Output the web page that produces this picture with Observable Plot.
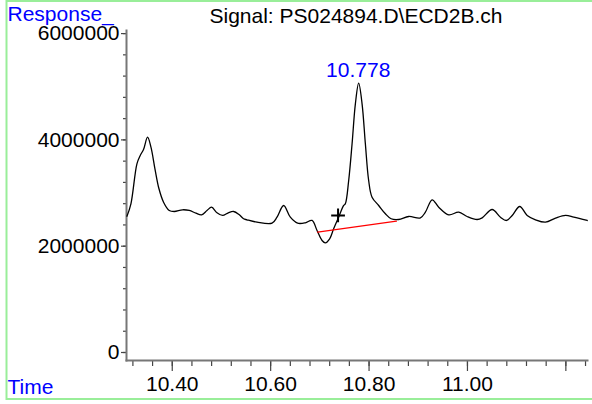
<!DOCTYPE html>
<html><head><meta charset="utf-8">
<script src="https://cdn.jsdelivr.net/npm/d3@7"></script>
<script src="https://cdn.jsdelivr.net/npm/@observablehq/plot@0.6"></script>
<style>body{margin:0;background:#fff} svg{display:block}</style>
</head><body><div id="chart"></div>
<script>
// Chromatogram trace (time in minutes, detector response)
const times = [10.3079,10.3160,10.3282,10.3349,10.3416,10.3498,10.3567,10.3648,10.3730,10.3823,10.3939,10.4041,10.4209,10.4346,10.4482,10.4596,10.4706,10.4799,10.4909,10.5023,10.5139,10.5247,10.5363,10.5450,10.5519,10.5723,10.6028,10.6129,10.6264,10.6400,10.6548,10.6705,10.6841,10.6943,10.7045,10.7112,10.7199,10.7280,10.7382,10.7484,10.7518,10.7586,10.7655,10.7722,10.7789,10.7858,10.7925,10.7992,10.8061,10.8196,10.8332,10.8448,10.8602,10.8806,10.9044,10.9145,10.9282,10.9416,10.9619,10.9823,10.9993,11.0197,11.0299,11.0502,11.0671,11.0793,11.0909,11.1063,11.1214,11.1383,11.1586,11.1790,11.1993,11.2162,11.2434];
const responses = [2564000,2798000,3550000,3707000,3819000,4051000,3863000,3456000,3080000,2828000,2672000,2653000,2685000,2672000,2621000,2591000,2672000,2734000,2628000,2578000,2628000,2653000,2591000,2516000,2497000,2452000,2433000,2546000,2766000,2546000,2433000,2440000,2484000,2295000,2107000,2064000,2139000,2327000,2546000,2766000,2798000,3236000,3927000,4679000,5067000,4679000,3927000,3236000,2922000,2766000,2610000,2516000,2502000,2559000,2534000,2640000,2873000,2734000,2591000,2640000,2559000,2502000,2534000,2690000,2546000,2484000,2578000,2747000,2578000,2497000,2452000,2527000,2578000,2546000,2484000];

// Integration baseline of the labelled peak
const baselineTimes = [10.6955, 10.8556];
const baselineResponses = [2264000, 2470000];

// Peak start marker
const markerTimes = [10.737];
const markerResponses = [2578000];

// Peak label
const peakTimes = [10.778];
const peakResponses = [5067000];
const peakLabels = ["10.778"];

// Axes
const xDomain = [10.307, 11.244];
const yDomain = [-150500, 6058000];
const xMajorTicks = [10.40, 10.60, 10.80, 11.00, 11.20];
const xMajorLabels = ["10.40", "10.60", "10.80", "11.00", ""];
const xMinorTicks = d3.range(1032, 1125, 4).map(d => d / 100);
const yMajorTicks = [0, 2000000, 4000000, 6000000];
const yMajorLabels = ["0", "2000000", "4000000", "6000000"];
const yMinorTicks = d3.range(0, 6000001, 400000);

const titleText = "Signal: PS024894.D\\ECD2B.ch";
const yTitle = "Response_";
const xTitle = "Time";

const trace = times.map((t, i) => ({t, v: responses[i]}));
const base = baselineTimes.map((t, i) => ({t, v: baselineResponses[i]}));
const marker = markerTimes.map((t, i) => ({t, v: markerResponses[i]}));
const peaks = peakTimes.map((t, i) => ({t, v: peakResponses[i], label: peakLabels[i]}));

const xLab = new Map(xMajorTicks.map((d, i) => [d, xMajorLabels[i]]));
const yLab = new Map(yMajorTicks.map((d, i) => [d, yMajorLabels[i]]));

const font = "'Liberation Sans', Arial, sans-serif";
const FS = 21;
const W = 592, H = 404;

const chart = Plot.plot({
  width: W, height: H,
  marginLeft: 126, marginRight: 5, marginTop: 30, marginBottom: 44,
  style: {fontFamily: font, fontSize: FS + "px", background: "#fff", color: "#000", overflow: "visible"},
  x: {domain: xDomain, label: null},
  y: {domain: yDomain, label: null},
  marks: [
    Plot.axisX({ticks: xMinorTicks, tickSize: 6, tickFormat: () => "", stroke: "#444", strokeWidth: 1.2}),
    Plot.axisX({ticks: xMajorTicks, tickSize: 11, tickPadding: 5, tickFormat: d => xLab.get(d) ?? "", stroke: "#444", strokeWidth: 1.2, fill: "#000", fontSize: FS}),
    Plot.axisY({ticks: yMinorTicks, tickSize: 3, tickFormat: () => "", stroke: "#444", strokeWidth: 1.2}),
    Plot.axisY({ticks: yMajorTicks, tickSize: 5, tickPadding: 2, tickFormat: d => yLab.get(d) ?? "", stroke: "#444", strokeWidth: 1.2, fill: "#000", fontSize: FS}),
    Plot.frame({anchor: "left", stroke: "#777", strokeWidth: 2}),
    Plot.frame({anchor: "bottom", stroke: "#777", strokeWidth: 2}),
    Plot.line(trace, {x: "t", y: "v", curve: "catmull-rom", stroke: "#000", strokeWidth: 1.3}),
    Plot.line(base, {x: "t", y: "v", stroke: "#ff0000", strokeWidth: 1.2}),
    Plot.dot(marker, {x: "t", y: "v", symbol: "plus", r: 4.5, stroke: "#000", strokeWidth: 2}),
    Plot.text(peaks, {x: "t", y: "v", text: "label", fill: "#0000ff", fontSize: FS, lineAnchor: "bottom", dy: -6})
  ]
});
document.getElementById("chart").appendChild(chart);

const svg = d3.select(chart);
svg.append("rect").attr("x", 6.5).attr("y", 1).attr("width", W + 10).attr("height", 398)
  .attr("fill", "none").attr("stroke", "#99ee99").attr("stroke-width", 2);
svg.append("text").attr("x", 356).attr("y", 23).attr("text-anchor", "middle")
  .attr("font-family", font).attr("font-size", FS).attr("fill", "#000").text(titleText);
svg.append("text").attr("x", 7.5).attr("y", 21).attr("text-anchor", "start")
  .attr("font-family", font).attr("font-size", FS).attr("fill", "#0000ff").text(yTitle);
svg.append("text").attr("x", 7.5).attr("y", 394).attr("text-anchor", "start")
  .attr("font-family", font).attr("font-size", FS).attr("fill", "#0000ff").text(xTitle);
</script>
</body></html>
